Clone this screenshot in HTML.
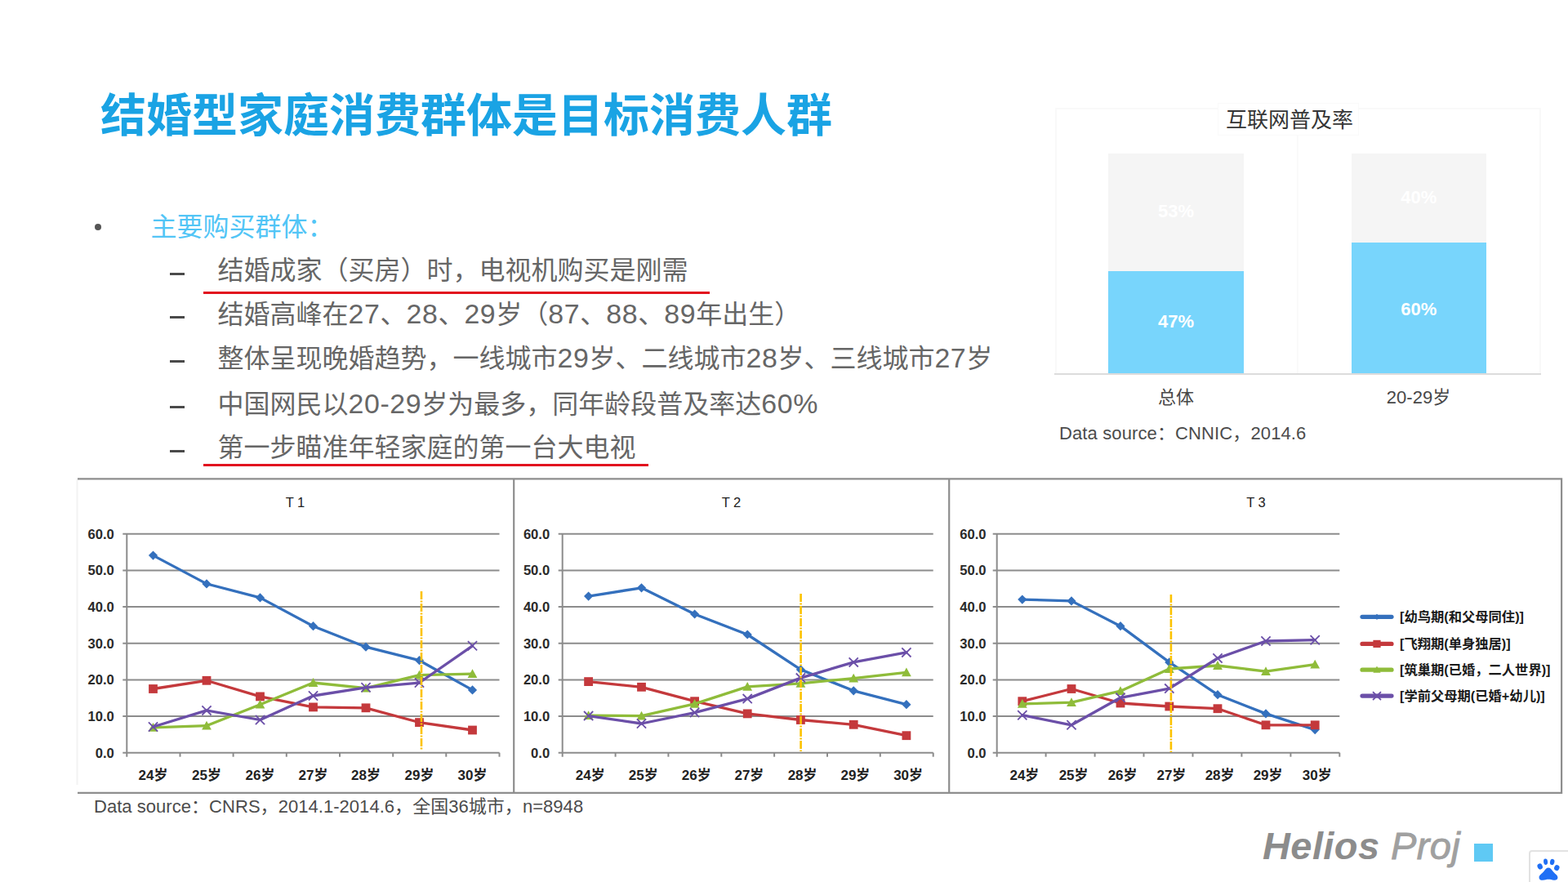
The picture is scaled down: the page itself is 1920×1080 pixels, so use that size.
<!DOCTYPE html>
<html lang="zh-CN"><head><meta charset="utf-8"><title>结婚型家庭消费群体是目标消费人群</title>
<style>
*{margin:0;padding:0;box-sizing:border-box}
html,body{width:1920px;height:1080px;overflow:hidden;background:#fff}
body{font-family:"Liberation Sans","Noto Sans CJK SC",sans-serif;color:#5f5f5f}
.slide{position:relative;width:1920px;height:1080px;background:#fff;overflow:hidden}
.slide>div{position:absolute;white-space:nowrap;line-height:1}
.title{font-size:56px;color:#1aa3e4;font-weight:bold}
.dot{left:115.5px;top:273.5px;width:8.5px;height:8.5px;border-radius:50%;background:#555}
.h2{font-size:32px;color:#52c5f6}
.li{left:266.500px;font-size:32px;color:#666}
.li .n{font-size:1.06em;letter-spacing:.6px}
.dash{left:207.5px;width:18.5px;height:2.6px;background:#4a4a4a}
.ul{height:3px;background:#e2101e}
.bc-frame{left:1291.5px;top:131.5px;width:595px;height:327px;border:2px solid #f9f9f9;border-bottom:none}
.bc-mid{left:1588px;top:133px;width:2px;height:324px;background:#fafafa}
.bc-tbox{left:1491px;top:126px;width:173px;height:39.500px;background:#fff;border:1px solid #fafafa}
.bc-title{left:1501px;top:134px;font-size:26px;color:#363636}
.bar span{position:absolute;left:0;right:0;text-align:center;font-size:22px;font-weight:bold;color:#fff;line-height:1}
.bar.g{background:#f5f5f5}
.bar.b{background:#78d5fc}
.bc-axis{left:1291px;top:456.5px;width:596px;height:2px;background:#dcdcdc}
.bc-x{top:476px;width:200px;text-align:center;font-size:22px;color:#484848}
.src{font-size:22px;color:#4c4c4c;letter-spacing:.12px}
svg.lc{position:absolute;left:0;top:0}
.gl{stroke:#8c8c8c;stroke-width:2;fill:none}
.yl{font:bold 16.600px "Liberation Sans",sans-serif;fill:#2a2a2a;text-anchor:end}
.ct{font:16.500px "Liberation Sans",sans-serif;fill:#222;text-anchor:middle}
.xl{top:940.500px;width:60px;text-align:center;font-size:17px;font-weight:bold;color:#222}
.lg{left:1714px;font-size:16.300px;color:#1a1a1a;font-weight:bold}
.logo{left:1546px;top:1012.300px;font-size:47px;font-weight:bold;font-style:italic;color:#8c8c8c;letter-spacing:.4px}
.logo i{color:#a0a0a0;font-weight:normal;-webkit-text-stroke:.9px #a0a0a0}
.sq{left:1805px;top:1032.500px;width:23px;height:22.5px;background:#5fc9f4}
.paw{left:1872px;top:1041px;width:52px;height:44px;border:2px solid #e2e2e2;border-radius:4px 0 0 0;background:#fff}
.paw svg{position:absolute;left:-2px;top:-2px;fill:#1f6ff5}
</style></head>
<body>

<div class="slide">
<div class="title" style="left:123px;top:114px">结婚型家庭消费群体是目标消费人群</div>

<div class="dot"></div>
<div class="h2" style="left:184.500px;top:262px">主要购买群体：</div>

<div class="dash" style="top:334px"></div>
<div class="li" style="top:315px">结婚成家（买房）时，电视机购买是刚需</div>
<div class="ul" style="left:249px;top:356.5px;width:620px"></div>
<div class="dash" style="top:387px"></div>
<div class="li" style="top:368px">结婚高峰在<span class="n">27</span>、<span class="n">28</span>、<span class="n">29</span>岁（<span class="n">87</span>、<span class="n">88</span>、<span class="n">89</span>年出生）</div>
<div class="dash" style="top:441px"></div>
<div class="li" style="top:422px">整体呈现晚婚趋势，一线城市<span class="n">29</span>岁、二线城市<span class="n">28</span>岁、三线城市<span class="n">27</span>岁</div>
<div class="dash" style="top:497px"></div>
<div class="li" style="top:478px">中国网民以<span class="n">20-29</span>岁为最多，同年龄段普及率达<span class="n">60%</span></div>
<div class="dash" style="top:551px"></div>
<div class="li" style="top:532px">第一步瞄准年轻家庭的第一台大电视</div>
<div class="ul" style="left:249px;top:568px;width:544.500px"></div>

<!-- bar chart -->
<div class="bc-frame"></div>
<div class="bc-mid"></div>
<div class="bc-tbox"></div>
<div class="bc-title">互联网普及率</div>
<div class="bar g" style="left:1357px;top:188px;width:166px;height:144px"><span style="top:60px">53%</span></div>
<div class="bar b" style="left:1357px;top:331.5px;width:166px;height:126px"><span style="top:51px">47%</span></div>
<div class="bar g" style="left:1654.500px;top:188px;width:165.500px;height:109px"><span style="top:43px">40%</span></div>
<div class="bar b" style="left:1654.500px;top:296.500px;width:165.500px;height:161px"><span style="top:71px">60%</span></div>
<div class="bc-axis"></div>
<div class="bc-x" style="left:1340px">总体</div>
<div class="bc-x" style="left:1637px"><span class="n">20-29</span>岁</div>
<div class="src" style="left:1297px;top:520px"><span class="n">Data source</span>：<span class="n">CNNIC</span>，<span class="n">2014.6</span></div>

<!-- line charts -->
<svg class="lc" width="1920" height="1080" viewBox="0 0 1920 1080">
<path d="M94.500 587V961" stroke="#f3f3f3" stroke-width="2" fill="none"/>
<path d="M95 586.300H1913.200M95 970.800H1913.200M1912.100 586.300V970.800M629.200 586.300V970.800M1162.200 586.300V970.800" stroke="#8e8e8e" stroke-width="2.200" fill="none"/>
<path d="M150.3 921.7H611.5" class="gl"/>
<path d="M150.3 877.0H611.5" class="gl"/>
<path d="M150.3 832.4H611.5" class="gl"/>
<path d="M150.3 787.7H611.5" class="gl"/>
<path d="M150.3 743.1H611.5" class="gl"/>
<path d="M150.3 698.4H611.5" class="gl"/>
<path d="M150.3 653.7H611.5" class="gl"/>
<path d="M155.3 653.7V926.7" class="gl"/>
<path d="M220.5 921.7v5" class="gl"/>
<path d="M285.6 921.7v5" class="gl"/>
<path d="M350.8 921.7v5" class="gl"/>
<path d="M416.0 921.7v5" class="gl"/>
<path d="M481.2 921.7v5" class="gl"/>
<path d="M546.3 921.7v5" class="gl"/>
<path d="M611.5 921.7v5" class="gl"/>
<text x="139.8" y="927.7" class="yl">0.0</text>
<text x="139.8" y="883.0" class="yl">10.0</text>
<text x="139.8" y="838.4" class="yl">20.0</text>
<text x="139.8" y="793.7" class="yl">30.0</text>
<text x="139.8" y="749.1" class="yl">40.0</text>
<text x="139.8" y="704.4" class="yl">50.0</text>
<text x="139.8" y="659.7" class="yl">60.0</text>
<polyline points="187.5,680.1 253.0,714.9 318.5,731.9 383.5,766.7 448.0,792.2 513.5,808.7 578.5,844.9" fill="none" stroke="#3470bd" stroke-width="3.3" stroke-linejoin="round" stroke-linecap="round"/>
<path d="M187.5 674.5L193.1 680.1L187.5 685.7L181.9 680.1Z" fill="#3470bd"/>
<path d="M253.0 709.3L258.6 714.9L253.0 720.5L247.4 714.9Z" fill="#3470bd"/>
<path d="M318.5 726.3L324.1 731.9L318.5 737.5L312.9 731.9Z" fill="#3470bd"/>
<path d="M383.5 761.1L389.1 766.7L383.5 772.3L377.9 766.7Z" fill="#3470bd"/>
<path d="M448.0 786.6L453.6 792.2L448.0 797.8L442.4 792.2Z" fill="#3470bd"/>
<path d="M513.5 803.1L519.1 808.7L513.5 814.3L507.9 808.7Z" fill="#3470bd"/>
<path d="M578.5 839.3L584.1 844.9L578.5 850.5L572.9 844.9Z" fill="#3470bd"/>
<polyline points="187.5,843.5 253.0,833.3 318.5,852.9 383.5,865.9 448.0,866.8 513.5,884.6 578.5,894.0" fill="none" stroke="#c4393c" stroke-width="3.3" stroke-linejoin="round" stroke-linecap="round"/>
<rect x="182.1" y="838.1" width="10.8" height="10.8" fill="#c4393c"/>
<rect x="247.6" y="827.9" width="10.8" height="10.8" fill="#c4393c"/>
<rect x="313.1" y="847.5" width="10.8" height="10.8" fill="#c4393c"/>
<rect x="378.1" y="860.5" width="10.8" height="10.8" fill="#c4393c"/>
<rect x="442.6" y="861.4" width="10.8" height="10.8" fill="#c4393c"/>
<rect x="508.1" y="879.2" width="10.8" height="10.8" fill="#c4393c"/>
<rect x="573.1" y="888.6" width="10.8" height="10.8" fill="#c4393c"/>
<polyline points="187.5,890.9 253.0,888.7 318.5,862.7 383.5,836.0 448.0,842.7 513.5,826.6 578.5,825.2" fill="none" stroke="#8fbc3a" stroke-width="3.3" stroke-linejoin="round" stroke-linecap="round"/>
<path d="M187.5 885.0L193.4 895.8L181.6 895.8Z" fill="#8fbc3a"/>
<path d="M253.0 882.8L258.9 893.6L247.1 893.6Z" fill="#8fbc3a"/>
<path d="M318.5 856.8L324.4 867.6L312.6 867.6Z" fill="#8fbc3a"/>
<path d="M383.5 830.1L389.4 840.9L377.6 840.9Z" fill="#8fbc3a"/>
<path d="M448.0 836.8L453.9 847.6L442.1 847.6Z" fill="#8fbc3a"/>
<path d="M513.5 820.7L519.4 831.5L507.6 831.5Z" fill="#8fbc3a"/>
<path d="M578.5 819.3L584.4 830.1L572.6 830.1Z" fill="#8fbc3a"/>
<polyline points="187.5,890.0 253.0,869.9 318.5,881.5 383.5,852.0 448.0,841.8 513.5,836.0 578.5,790.8" fill="none" stroke="#6b4fa8" stroke-width="3.3" stroke-linejoin="round" stroke-linecap="round"/>
<path d="M181.9 884.4L193.1 895.6M193.1 884.4L181.9 895.6" stroke="#6b4fa8" stroke-width="1.8" fill="none"/>
<path d="M247.4 864.3L258.6 875.5M258.6 864.3L247.4 875.5" stroke="#6b4fa8" stroke-width="1.8" fill="none"/>
<path d="M312.9 875.9L324.1 887.1M324.1 875.9L312.9 887.1" stroke="#6b4fa8" stroke-width="1.8" fill="none"/>
<path d="M377.9 846.4L389.1 857.6M389.1 846.4L377.9 857.6" stroke="#6b4fa8" stroke-width="1.8" fill="none"/>
<path d="M442.4 836.2L453.6 847.4M453.6 836.2L442.4 847.4" stroke="#6b4fa8" stroke-width="1.8" fill="none"/>
<path d="M507.9 830.4L519.1 841.6M519.1 830.4L507.9 841.6" stroke="#6b4fa8" stroke-width="1.8" fill="none"/>
<path d="M572.9 785.2L584.1 796.4M584.1 785.2L572.9 796.4" stroke="#6b4fa8" stroke-width="1.8" fill="none"/>
<path d="M516.0 724.0V919.0" stroke="#fcc200" stroke-width="2.6" stroke-dasharray="10 1.5 2 1.5" fill="none"/>
<text x="361.5" y="621" class="ct">T 1</text>
<path d="M683.7 921.7H1142.7" class="gl"/>
<path d="M683.7 877.0H1142.7" class="gl"/>
<path d="M683.7 832.4H1142.7" class="gl"/>
<path d="M683.7 787.7H1142.7" class="gl"/>
<path d="M683.7 743.1H1142.7" class="gl"/>
<path d="M683.7 698.4H1142.7" class="gl"/>
<path d="M683.7 653.7H1142.7" class="gl"/>
<path d="M688.7 653.7V926.7" class="gl"/>
<path d="M753.6 921.7v5" class="gl"/>
<path d="M818.4 921.7v5" class="gl"/>
<path d="M883.3 921.7v5" class="gl"/>
<path d="M948.1 921.7v5" class="gl"/>
<path d="M1013.0 921.7v5" class="gl"/>
<path d="M1077.8 921.7v5" class="gl"/>
<path d="M1142.7 921.7v5" class="gl"/>
<text x="673.2" y="927.7" class="yl">0.0</text>
<text x="673.2" y="883.0" class="yl">10.0</text>
<text x="673.2" y="838.4" class="yl">20.0</text>
<text x="673.2" y="793.7" class="yl">30.0</text>
<text x="673.2" y="749.1" class="yl">40.0</text>
<text x="673.2" y="704.4" class="yl">50.0</text>
<text x="673.2" y="659.7" class="yl">60.0</text>
<polyline points="720.6,730.1 785.5,719.8 850.6,752.0 915.2,777.0 980.4,819.9 1045.2,845.8 1109.9,862.7" fill="none" stroke="#3470bd" stroke-width="3.3" stroke-linejoin="round" stroke-linecap="round"/>
<path d="M720.6 724.5L726.2 730.1L720.6 735.7L715.0 730.1Z" fill="#3470bd"/>
<path d="M785.5 714.2L791.1 719.8L785.5 725.4L779.9 719.8Z" fill="#3470bd"/>
<path d="M850.6 746.4L856.2 752.0L850.6 757.6L845.0 752.0Z" fill="#3470bd"/>
<path d="M915.2 771.4L920.8 777.0L915.2 782.6L909.6 777.0Z" fill="#3470bd"/>
<path d="M980.4 814.3L986.0 819.9L980.4 825.5L974.8 819.9Z" fill="#3470bd"/>
<path d="M1045.2 840.2L1050.8 845.8L1045.2 851.4L1039.6 845.8Z" fill="#3470bd"/>
<path d="M1109.9 857.1L1115.5 862.7L1109.9 868.3L1104.3 862.7Z" fill="#3470bd"/>
<polyline points="720.6,834.6 785.5,841.3 850.6,858.7 915.2,873.9 980.4,881.5 1045.2,887.3 1109.9,900.7" fill="none" stroke="#c4393c" stroke-width="3.3" stroke-linejoin="round" stroke-linecap="round"/>
<rect x="715.2" y="829.2" width="10.8" height="10.8" fill="#c4393c"/>
<rect x="780.1" y="835.9" width="10.8" height="10.8" fill="#c4393c"/>
<rect x="845.2" y="853.3" width="10.8" height="10.8" fill="#c4393c"/>
<rect x="909.8" y="868.5" width="10.8" height="10.8" fill="#c4393c"/>
<rect x="975.0" y="876.1" width="10.8" height="10.8" fill="#c4393c"/>
<rect x="1039.8" y="881.9" width="10.8" height="10.8" fill="#c4393c"/>
<rect x="1104.5" y="895.3" width="10.8" height="10.8" fill="#c4393c"/>
<polyline points="720.6,876.1 785.5,876.6 850.6,861.9 915.2,840.9 980.4,836.8 1045.2,830.6 1109.9,823.4" fill="none" stroke="#8fbc3a" stroke-width="3.3" stroke-linejoin="round" stroke-linecap="round"/>
<path d="M720.6 870.2L726.5 881.0L714.7 881.0Z" fill="#8fbc3a"/>
<path d="M785.5 870.7L791.4 881.5L779.6 881.5Z" fill="#8fbc3a"/>
<path d="M850.6 856.0L856.5 866.8L844.7 866.8Z" fill="#8fbc3a"/>
<path d="M915.2 835.0L921.1 845.8L909.3 845.8Z" fill="#8fbc3a"/>
<path d="M980.4 830.9L986.3 841.7L974.5 841.7Z" fill="#8fbc3a"/>
<path d="M1045.2 824.7L1051.1 835.5L1039.3 835.5Z" fill="#8fbc3a"/>
<path d="M1109.9 817.5L1115.8 828.3L1104.0 828.3Z" fill="#8fbc3a"/>
<polyline points="720.6,876.6 785.5,886.0 850.6,872.6 915.2,855.6 980.4,830.1 1045.2,810.9 1109.9,798.9" fill="none" stroke="#6b4fa8" stroke-width="3.3" stroke-linejoin="round" stroke-linecap="round"/>
<path d="M715.0 871.0L726.2 882.2M726.2 871.0L715.0 882.2" stroke="#6b4fa8" stroke-width="1.8" fill="none"/>
<path d="M779.9 880.4L791.1 891.6M791.1 880.4L779.9 891.6" stroke="#6b4fa8" stroke-width="1.8" fill="none"/>
<path d="M845.0 867.0L856.2 878.2M856.2 867.0L845.0 878.2" stroke="#6b4fa8" stroke-width="1.8" fill="none"/>
<path d="M909.6 850.0L920.8 861.2M920.8 850.0L909.6 861.2" stroke="#6b4fa8" stroke-width="1.8" fill="none"/>
<path d="M974.8 824.5L986.0 835.7M986.0 824.5L974.8 835.7" stroke="#6b4fa8" stroke-width="1.8" fill="none"/>
<path d="M1039.6 805.3L1050.8 816.5M1050.8 805.3L1039.6 816.5" stroke="#6b4fa8" stroke-width="1.8" fill="none"/>
<path d="M1104.3 793.3L1115.5 804.5M1115.5 793.3L1104.3 804.5" stroke="#6b4fa8" stroke-width="1.8" fill="none"/>
<path d="M980.6 727.0V920.0" stroke="#fcc200" stroke-width="2.6" stroke-dasharray="10 1.5 2 1.5" fill="none"/>
<text x="895.5" y="621" class="ct">T 2</text>
<path d="M1215.7 921.7H1640.3" class="gl"/>
<path d="M1215.7 877.0H1640.3" class="gl"/>
<path d="M1215.7 832.4H1640.3" class="gl"/>
<path d="M1215.7 787.7H1640.3" class="gl"/>
<path d="M1215.7 743.1H1640.3" class="gl"/>
<path d="M1215.7 698.4H1640.3" class="gl"/>
<path d="M1215.7 653.7H1640.3" class="gl"/>
<path d="M1220.7 653.7V926.7" class="gl"/>
<path d="M1280.6 921.7v5" class="gl"/>
<path d="M1340.6 921.7v5" class="gl"/>
<path d="M1400.5 921.7v5" class="gl"/>
<path d="M1460.5 921.7v5" class="gl"/>
<path d="M1520.4 921.7v5" class="gl"/>
<path d="M1580.4 921.7v5" class="gl"/>
<path d="M1640.3 921.7v5" class="gl"/>
<text x="1207.6" y="927.7" class="yl">0.0</text>
<text x="1207.6" y="883.0" class="yl">10.0</text>
<text x="1207.6" y="838.4" class="yl">20.0</text>
<text x="1207.6" y="793.7" class="yl">30.0</text>
<text x="1207.6" y="749.1" class="yl">40.0</text>
<text x="1207.6" y="704.4" class="yl">50.0</text>
<text x="1207.6" y="659.7" class="yl">60.0</text>
<polyline points="1251.8,734.1 1312.0,735.9 1372.0,766.7 1431.8,810.9 1491.0,850.7 1550.0,873.9 1610.2,893.6" fill="none" stroke="#3470bd" stroke-width="3.3" stroke-linejoin="round" stroke-linecap="round"/>
<path d="M1251.8 728.5L1257.4 734.1L1251.8 739.7L1246.2 734.1Z" fill="#3470bd"/>
<path d="M1312.0 730.3L1317.6 735.9L1312.0 741.5L1306.4 735.9Z" fill="#3470bd"/>
<path d="M1372.0 761.1L1377.6 766.7L1372.0 772.3L1366.4 766.7Z" fill="#3470bd"/>
<path d="M1431.8 805.3L1437.4 810.9L1431.8 816.5L1426.2 810.9Z" fill="#3470bd"/>
<path d="M1491.0 845.1L1496.6 850.7L1491.0 856.3L1485.4 850.7Z" fill="#3470bd"/>
<path d="M1550.0 868.3L1555.6 873.9L1550.0 879.5L1544.4 873.9Z" fill="#3470bd"/>
<path d="M1610.2 888.0L1615.8 893.6L1610.2 899.2L1604.6 893.6Z" fill="#3470bd"/>
<polyline points="1251.8,858.7 1312.0,843.5 1372.0,861.0 1431.8,865.0 1491.0,867.7 1550.0,887.8 1610.2,887.8" fill="none" stroke="#c4393c" stroke-width="3.3" stroke-linejoin="round" stroke-linecap="round"/>
<rect x="1246.4" y="853.3" width="10.8" height="10.8" fill="#c4393c"/>
<rect x="1306.6" y="838.1" width="10.8" height="10.8" fill="#c4393c"/>
<rect x="1366.6" y="855.6" width="10.8" height="10.8" fill="#c4393c"/>
<rect x="1426.4" y="859.6" width="10.8" height="10.8" fill="#c4393c"/>
<rect x="1485.6" y="862.3" width="10.8" height="10.8" fill="#c4393c"/>
<rect x="1544.6" y="882.4" width="10.8" height="10.8" fill="#c4393c"/>
<rect x="1604.8" y="882.4" width="10.8" height="10.8" fill="#c4393c"/>
<polyline points="1251.8,861.9 1312.0,860.1 1372.0,846.2 1431.8,819.0 1491.0,815.0 1550.0,822.1 1610.2,813.6" fill="none" stroke="#8fbc3a" stroke-width="3.3" stroke-linejoin="round" stroke-linecap="round"/>
<path d="M1251.8 856.0L1257.7 866.8L1245.9 866.8Z" fill="#8fbc3a"/>
<path d="M1312.0 854.2L1317.9 865.0L1306.1 865.0Z" fill="#8fbc3a"/>
<path d="M1372.0 840.3L1377.9 851.1L1366.1 851.1Z" fill="#8fbc3a"/>
<path d="M1431.8 813.1L1437.7 823.9L1425.9 823.9Z" fill="#8fbc3a"/>
<path d="M1491.0 809.1L1496.9 819.9L1485.1 819.9Z" fill="#8fbc3a"/>
<path d="M1550.0 816.2L1555.9 827.0L1544.1 827.0Z" fill="#8fbc3a"/>
<path d="M1610.2 807.7L1616.1 818.5L1604.3 818.5Z" fill="#8fbc3a"/>
<polyline points="1251.8,875.7 1312.0,887.8 1372.0,854.3 1431.8,843.1 1491.0,806.0 1550.0,785.0 1610.2,783.7" fill="none" stroke="#6b4fa8" stroke-width="3.3" stroke-linejoin="round" stroke-linecap="round"/>
<path d="M1246.2 870.1L1257.4 881.3M1257.4 870.1L1246.2 881.3" stroke="#6b4fa8" stroke-width="1.8" fill="none"/>
<path d="M1306.4 882.2L1317.6 893.4M1317.6 882.2L1306.4 893.4" stroke="#6b4fa8" stroke-width="1.8" fill="none"/>
<path d="M1366.4 848.7L1377.6 859.9M1377.6 848.7L1366.4 859.9" stroke="#6b4fa8" stroke-width="1.8" fill="none"/>
<path d="M1426.2 837.5L1437.4 848.7M1437.4 837.5L1426.2 848.7" stroke="#6b4fa8" stroke-width="1.8" fill="none"/>
<path d="M1485.4 800.4L1496.6 811.6M1496.6 800.4L1485.4 811.6" stroke="#6b4fa8" stroke-width="1.8" fill="none"/>
<path d="M1544.4 779.4L1555.6 790.6M1555.6 779.4L1544.4 790.6" stroke="#6b4fa8" stroke-width="1.8" fill="none"/>
<path d="M1604.6 778.1L1615.8 789.3M1615.8 778.1L1604.6 789.3" stroke="#6b4fa8" stroke-width="1.8" fill="none"/>
<path d="M1433.9 728.0V921.0" stroke="#fcc200" stroke-width="2.6" stroke-dasharray="10 1.5 2 1.5" fill="none"/>
<text x="1538.0" y="621" class="ct">T 3</text>
<path d="M1668 755.3H1704" stroke="#3470bd" stroke-width="5.2" stroke-linecap="round" fill="none"/>
<path d="M1686.0 751.7L1689.6 755.3L1686.0 758.9L1682.4 755.3Z" fill="#3470bd"/>
<path d="M1668 788.4H1704" stroke="#c4393c" stroke-width="5.2" stroke-linecap="round" fill="none"/>
<rect x="1681.4" y="783.8" width="9.2" height="9.2" fill="#c4393c"/>
<path d="M1668 820.2H1704" stroke="#8fbc3a" stroke-width="5.2" stroke-linecap="round" fill="none"/>
<path d="M1686.0 815.6L1690.6 823.8L1681.4 823.8Z" fill="#8fbc3a"/>
<path d="M1668 852.1H1704" stroke="#6b4fa8" stroke-width="5.2" stroke-linecap="round" fill="none"/>
<path d="M1681.0 847.1L1691.0 857.1M1691.0 847.1L1681.0 857.1" stroke="#6b4fa8" stroke-width="1.8" fill="none"/>
</svg>
<div class="xl" style="left:157.5px"><span class="n">24</span>岁</div>
<div class="xl" style="left:223.0px"><span class="n">25</span>岁</div>
<div class="xl" style="left:288.5px"><span class="n">26</span>岁</div>
<div class="xl" style="left:353.5px"><span class="n">27</span>岁</div>
<div class="xl" style="left:418.0px"><span class="n">28</span>岁</div>
<div class="xl" style="left:483.5px"><span class="n">29</span>岁</div>
<div class="xl" style="left:548.5px"><span class="n">30</span>岁</div>
<div class="xl" style="left:692.8px"><span class="n">24</span>岁</div>
<div class="xl" style="left:757.7px"><span class="n">25</span>岁</div>
<div class="xl" style="left:822.8px"><span class="n">26</span>岁</div>
<div class="xl" style="left:887.4px"><span class="n">27</span>岁</div>
<div class="xl" style="left:952.6px"><span class="n">28</span>岁</div>
<div class="xl" style="left:1017.4px"><span class="n">29</span>岁</div>
<div class="xl" style="left:1082.1px"><span class="n">30</span>岁</div>
<div class="xl" style="left:1224.4px"><span class="n">24</span>岁</div>
<div class="xl" style="left:1284.6px"><span class="n">25</span>岁</div>
<div class="xl" style="left:1344.6px"><span class="n">26</span>岁</div>
<div class="xl" style="left:1404.4px"><span class="n">27</span>岁</div>
<div class="xl" style="left:1463.6px"><span class="n">28</span>岁</div>
<div class="xl" style="left:1522.6px"><span class="n">29</span>岁</div>
<div class="xl" style="left:1582.8px"><span class="n">30</span>岁</div>
<div class="lg" style="top:746.8px"><span class="n">[</span>幼鸟期<span class="n">(</span>和父母同住<span class="n">)]</span></div>
<div class="lg" style="top:779.9px"><span class="n">[</span>飞翔期<span class="n">(</span>单身独居<span class="n">)]</span></div>
<div class="lg" style="top:811.7px"><span class="n">[</span>筑巢期<span class="n">(</span>已婚，二人世界<span class="n">)]</span></div>
<div class="lg" style="top:843.6px"><span class="n">[</span>学前父母期<span class="n">(</span>已婚<span class="n">+</span>幼儿<span class="n">)]</span></div>
<div class="src" style="left:115px;top:977px;letter-spacing:.04px"><span class="n">Data source</span>：<span class="n">CNRS</span>，<span class="n">2014.1-2014.6</span>，全国<span class="n">36</span>城市，<span class="n">n=8948</span></div>

<!-- footer logo -->
<div class="logo"><b>Helios</b> <i>Proj</i></div>
<div class="sq"></div>
<div class="paw"><svg width="48" height="40" viewBox="0 0 48 40">
<ellipse cx="13.700" cy="20" rx="3.1" ry="3.6" transform="rotate(-25 13.700 20)"/>
<ellipse cx="20.600" cy="14.200" rx="2.500" ry="3.700" transform="rotate(-6 20.600 14.200)"/>
<ellipse cx="28.700" cy="14.500" rx="2.700" ry="3.700" transform="rotate(12 28.700 14.500)"/>
<ellipse cx="34.300" cy="21.600" rx="3.1" ry="3.5" transform="rotate(25 34.300 21.600)"/>
<path transform="translate(24 21.400) scale(1.040 1.070) translate(-24 -21.400)" d="M24 21.400c2.200 0 3.500 1.800 5.400 4.300 2.100 2.700 5.600 4.300 5.600 7 0 2.500-2.200 3.300-4.600 3-2.300-.3-4.100-.9-6.400-.9s-4.200.7-6.400.9c-2.500.3-4.600-.6-4.600-3.100 0-2.700 3.400-4.200 5.600-6.900 1.900-2.500 3.200-4.300 5.400-4.300z"/>
</svg></div>
</div>

</body></html>
